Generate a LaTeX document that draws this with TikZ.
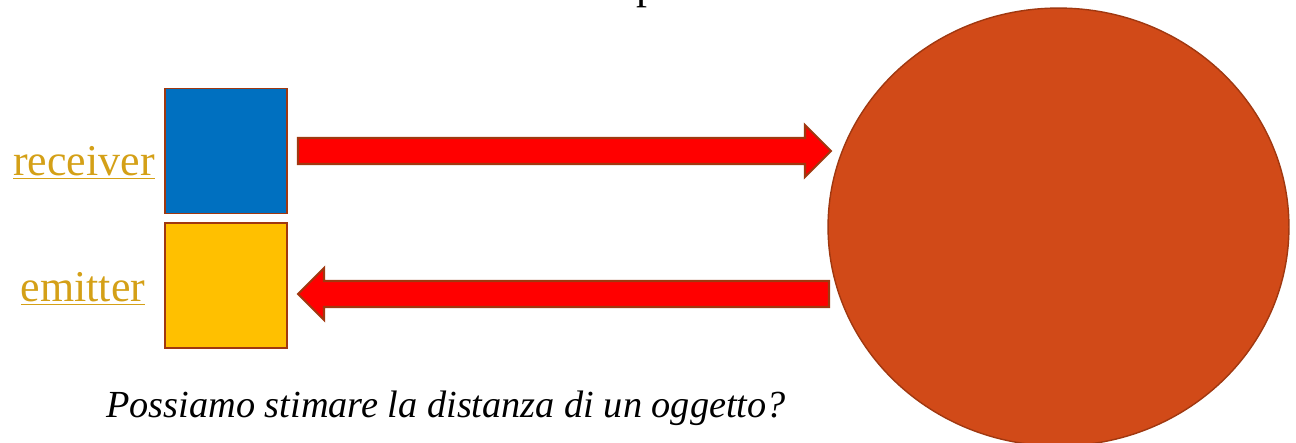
\documentclass[tikz,border=0pt]{standalone}
\usepackage{fontspec}
\setmainfont{Liberation Serif}
\usetikzlibrary{shapes.geometric}

\definecolor{recblue}{RGB}{0,112,192}
\definecolor{emityellow}{RGB}{255,192,0}
\definecolor{objorange}{RGB}{209,74,24}
\definecolor{edgebrown}{RGB}{160,56,16}
\definecolor{labelgold}{RGB}{212,160,23}
\definecolor{beamred}{RGB}{255,0,0}

\begin{document}
\begin{tikzpicture}[x=0.02cm,y=-0.02cm,
  sensor/.style={draw=edgebrown, line width=1.1pt, minimum width=2.44cm, minimum height=2.5cm, inner sep=0pt},
  beam/.style={fill=beamred, draw=edgebrown, line width=1.2pt, line join=miter},
  tag/.style={text=labelgold, inner sep=0pt, font=\fontsize{25}{30}\selectfont}]
\useasboundingbox (0,0) rectangle (1296,443);

% Title, only its last descender shows
\node[anchor=base west, inner sep=0pt, font=\fontsize{25}{30}\selectfont] (title) at (636,-1.5) {p};

% Receiver and emitter
\node[sensor, fill=recblue] (receiver) at (226,151) {};
\node[sensor, fill=emityellow] (emitter) at (226,285.5) {};

% Labels
\node[tag, anchor=base] (reclabel) at (84,175) {\underline{receiver}};
\node[tag, anchor=base] (emitlabel) at (83,301) {\underline{emitter}};

% The object
\node[ellipse, fill=objorange, draw=edgebrown, line width=0.8pt,
      minimum width=9.22cm, minimum height=8.76cm] (object) at (1058.5,227) {};

% Outgoing beam
\draw[beam] (298,138) -- (805,138) -- (805,125) -- (831,151) -- (805,177)
  -- (805,164) -- (298,164) -- cycle;

% Returning beam
\draw[beam] (829,281) -- (324,281) -- (324,268) -- (298,294) -- (324,320)
  -- (324,307) -- (829,307) -- cycle;

% Question
\node[anchor=base west, inner sep=0pt, font=\fontsize{21.8}{26}\selectfont\itshape] (question)
  at (106,417) {Possiamo stimare la distanza di un oggetto?};
\end{tikzpicture}
\end{document}
